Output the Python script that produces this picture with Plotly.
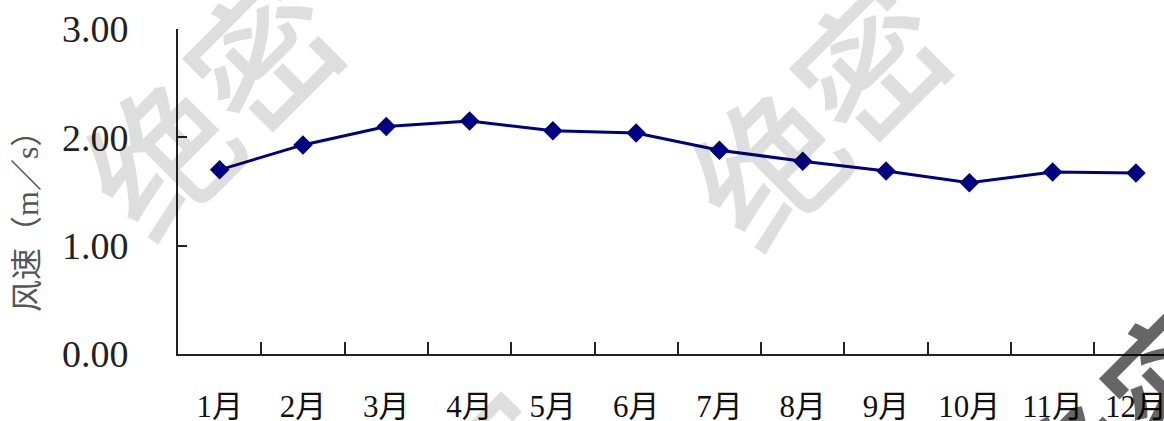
import plotly.graph_objects as go

# Monthly mean wind speed (m/s)
months = ["1月", "2月", "3月", "4月", "5月", "6月", "7月", "8月", "9月", "10月", "11月", "12月"]
wind_speed = [1.70, 1.93, 2.10, 2.15, 2.06, 2.04, 1.88, 1.78, 1.69, 1.58, 1.68, 1.67]

y_ticks = [0, 1, 2, 3]
y_tick_text = ["0.00", "1.00", "2.00", "3.00"]

W, H = 1164, 421
M_L, M_R, M_T, M_B = 178, 0, 29, 67
PW, PH = W - M_L - M_R, H - M_T - M_B


def paper_x(px):
    return (px - M_L) / PW


def paper_y(py):
    return (H - M_B - py) / PH


fig = go.Figure()
fig.add_trace(go.Scatter(
    x=months,
    y=wind_speed,
    mode="lines+markers",
    line=dict(color="#000080", width=3),
    marker=dict(symbol="diamond", size=15, color="#000080"),
    cliponaxis=False,
    showlegend=False,
))

axis_color = "#222222"
serif = "Liberation Serif, Noto Sans CJK SC, serif"

# "绝密" watermark stamps
stamps = [
    (208, 100, "rgba(0,0,0,0.13)"),
    (815, 110, "rgba(0,0,0,0.13)"),
    (440, 520, "rgba(0,0,0,0.13)"),
    (1125, 420, "rgba(0,0,0,0.6)"),
]
annotations = [
    dict(
        text="绝密", xref="paper", yref="paper",
        x=paper_x(sx), y=paper_y(sy), xanchor="center", yanchor="middle",
        textangle=-45, showarrow=False,
        font=dict(family="Noto Sans CJK SC", size=145, color=col, weight=500),
    )
    for sx, sy, col in stamps
]

# rotated y-axis title
annotations.append(dict(
    text="风速（m／s）", xref="paper", yref="paper",
    x=paper_x(27), y=paper_y(214), xanchor="center", yanchor="middle",
    textangle=-90, showarrow=False,
    font=dict(family=serif, size=32, color="#555555"),
))

fig.update_layout(
    width=W, height=H,
    margin=dict(l=M_L, r=M_R, t=M_T, b=M_B),
    paper_bgcolor="white", plot_bgcolor="white",
    annotations=annotations,
    xaxis=dict(
        type="category",
        range=[-0.5, -0.5 + PW / 83.3],
        showline=True, linecolor=axis_color, linewidth=2,
        ticks="inside", tickson="boundaries", ticklen=12, tickwidth=1.5, tickcolor=axis_color,
        showgrid=False, zeroline=False, automargin=False,
        tickfont=dict(family=serif, size=31, color="#111111"),
        ticklabelstandoff=24,
    ),
    yaxis=dict(
        range=[0, 3],
        tickvals=y_ticks, ticktext=y_tick_text,
        showline=True, linecolor=axis_color, linewidth=2,
        ticks="inside", ticklen=9, tickwidth=1.5, tickcolor=axis_color,
        showgrid=False, zeroline=False, automargin=False,
        tickfont=dict(family=serif, size=38, color="#222222"),
        ticklabelstandoff=40,
    ),
)

fig.write_html("out.html")
